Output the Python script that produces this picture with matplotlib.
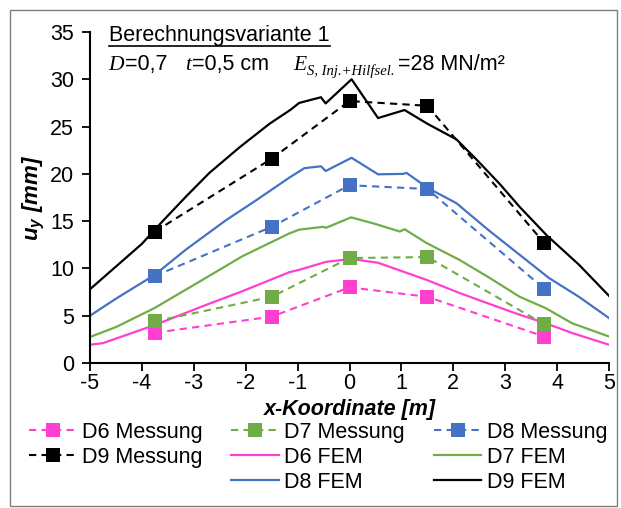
import matplotlib
matplotlib.use("Agg")
import matplotlib.pyplot as plt
from matplotlib.lines import Line2D
from matplotlib.patches import Rectangle

plt.rcParams['font.family'] = ['Liberation Sans', 'DejaVu Sans']
plt.rcParams['mathtext.fontset'] = 'custom'
plt.rcParams['mathtext.it'] = 'Liberation Sans:italic:bold'
plt.rcParams['mathtext.rm'] = 'Liberation Sans:bold'

# ---- data -------------------------------------------------------------
x_mess = [-3.75, -1.5, 0.0, 1.5, 3.75]
d6_mess = [3.2, 4.9, 8.0, 7.0, 2.8]
d7_mess = [4.4, 7.0, 11.1, 11.2, 4.1]
d8_mess = [9.2, 14.4, 18.8, 18.4, 7.85]
d9_mess = [13.9, 21.6, 27.7, 27.2, 12.7]

d6_fem_x = [-5, -4.75, -3.76, -2.83, -2.06, -1.16, -0.97, -0.45, 0.03, 0.55,
            1.48, 2.12, 2.69, 3.28, 3.78, 4.29, 5]
d6_fem_y = [1.93, 2.1, 4.0, 6.0, 7.6, 9.6, 9.85, 10.7, 11.0, 10.6,
            8.8, 7.4, 6.26, 5.1, 4.2, 3.17, 1.93]

d7_fem_x = [-5, -4.5, -3.76, -2.83, -2.06, -1.16, -0.97, -0.51, -0.45, 0.03,
            0.5, 0.97, 1.06, 1.48, 2.12, 2.7, 3.28, 3.78, 4.29, 5]
d7_fem_y = [2.75, 3.8, 5.8, 8.8, 11.3, 13.7, 14.1, 14.4, 14.3, 15.4,
            14.7, 13.9, 14.15, 12.7, 10.9, 9.0, 7.0, 5.8, 4.2, 2.8]

d8_fem_x = [-5, -4.5, -3.76, -3.15, -2.38, -1.8, -1.16, -0.87, -0.55, -0.46,
            0.04, 0.55, 1.03, 1.1, 1.51, 2.06, 2.45, 2.69, 3.84, 4.42, 5]
d8_fem_y = [5.0, 6.8, 9.3, 12.0, 15.1, 17.2, 19.6, 20.6, 20.8, 20.3,
            21.7, 19.95, 20.0, 20.1, 18.5, 16.9, 15.1, 14.0, 9.0, 7.0, 4.75]

d9_fem_x = [-5, -4.5, -4, -3.6, -3.15, -2.7, -2.12, -1.54, -1.13, -0.97,
            -0.55, -0.46, 0.04, 0.55, 1.06, 1.5, 2.06, 2.45, 2.9, 3.28,
            3.8, 4.42, 5]
d9_fem_y = [7.8, 10.2, 12.6, 15.0, 17.6, 20.1, 22.8, 25.3, 26.8, 27.5,
            28.1, 27.45, 30.0, 25.9, 26.75, 25.3, 23.65, 21.5, 18.9, 16.5,
            13.5, 10.4, 7.1]

x_ticks = [-5, -4, -3, -2, -1, 0, 1, 2, 3, 4, 5]
y_ticks = [0, 5, 10, 15, 20, 25, 30, 35]

col_d6 = '#FF3FCF'
col_d7 = '#70AD47'
col_d8 = '#4472C4'
col_d9 = '#000000'

FS = 15.5

# ---- figure -----------------------------------------------------------
W, H = 621, 508
fig = plt.figure(figsize=(W / 100, H / 100), dpi=100)
ax = fig.add_axes([90 / W, 1 - 363 / H, 519 / W, 331 / H])

fem_lw = 1.6
mess_kw = dict(linestyle=(0, (3.5, 2.5)), linewidth=1.5, marker='s',
               markersize=10, markeredgewidth=0)

h_f6, = ax.plot(d6_fem_x, d6_fem_y, color=col_d6, lw=fem_lw, label='D6 FEM')
h_f7, = ax.plot(d7_fem_x, d7_fem_y, color=col_d7, lw=fem_lw, label='D7 FEM')
h_f8, = ax.plot(d8_fem_x, d8_fem_y, color=col_d8, lw=fem_lw, label='D8 FEM')
h_f9, = ax.plot(d9_fem_x, d9_fem_y, color=col_d9, lw=fem_lw, label='D9 FEM')

h_m6, = ax.plot(x_mess, d6_mess, color=col_d6, **mess_kw, label='D6 Messung')
h_m7, = ax.plot(x_mess, d7_mess, color=col_d7, **mess_kw, label='D7 Messung')
h_m8, = ax.plot(x_mess, d8_mess, color=col_d8, **mess_kw, label='D8 Messung')
h_m9, = ax.plot(x_mess, d9_mess, color=col_d9, **mess_kw, label='D9 Messung')

ax.set_xlim(-5, 5)
ax.set_ylim(0, 35)
ax.set_xticks(x_ticks)
ax.set_yticks(y_ticks)
ax.set_xticklabels([str(t) for t in x_ticks])
ax.tick_params(axis='both', labelsize=FS, width=1.3, length=5.5,
               direction='out', color='black')
ax.tick_params(axis='x', pad=2)
ax.tick_params(axis='y', pad=6)
for s in ('top', 'right'):
    ax.spines[s].set_visible(False)
for s in ('left', 'bottom'):
    ax.spines[s].set_linewidth(1.5)

ax.set_xlabel('x-Koordinate [m]', fontsize=FS, fontweight='bold',
              fontstyle='italic', labelpad=3)
ax.set_ylabel(r'$u_y$ [mm]', fontsize=FS + 0.5, fontweight='bold',
              fontstyle='italic')
ax.yaxis.set_label_coords((47 - 90) / 519, 0.5)

# ---- header texts -----------------------------------------------------
def fx(px):
    return px / W

def fy(py):
    return 1 - py / H

fig.canvas.draw()
renderer = fig.canvas.get_renderer()

title = fig.text(fx(109), fy(41), 'Berechnungsvariante 1', fontsize=FS,
                 ha='left', va='baseline')
bb = title.get_window_extent(renderer)
fig.add_artist(Line2D([bb.x0 / W, bb.x1 / W], [fy(45.5), fy(45.5)],
                      transform=fig.transFigure, color='black', lw=1.2))

serif = ['Liberation Serif', 'DejaVu Serif']
base = 70


def piece(px, text, dy=0, **kw):
    t = fig.text(fx(px), fy(base + dy), text, ha='left', va='baseline', **kw)
    return t.get_window_extent(renderer).x1


end = piece(108, 'D', fontsize=FS, family=serif, style='italic')
piece(end + 1, '=0,7', fontsize=FS)
end = piece(185, 't', fontsize=FS, family=serif, style='italic')
piece(end + 1, '=0,5 cm', fontsize=FS)
end = piece(293, 'E', fontsize=FS, family=serif, style='italic')
end = piece(end + 1, 'S, Inj.+Hilfsel.', dy=5, fontsize=10.5, family=serif,
            style='italic')
piece(end + 3, '=28 MN/m²', fontsize=FS)

# ---- legend -----------------------------------------------------------
blank = Line2D([], [], linestyle='none', marker=None)
handles = [h_m6, h_m9, blank, h_m7, h_f6, h_f8, h_m8, h_f7, h_f9]
labels = ['D6 Messung', 'D9 Messung', '', 'D7 Messung', 'D6 FEM', 'D8 FEM',
          'D8 Messung', 'D7 FEM', 'D9 FEM']
fig.legend(handles, labels, ncol=3, loc='upper left',
           bbox_to_anchor=(fx(29), fy(422)), frameon=False, fontsize=FS,
           handlelength=2.2, handletextpad=0.25, columnspacing=1.35,
           labelspacing=0.18, borderaxespad=0, borderpad=0)

# outer frame
fig.add_artist(Rectangle((fx(10), fy(506)), fx(617) - fx(10), fy(10) - fy(506),
                         transform=fig.transFigure, fill=False,
                         edgecolor='#7f7f7f', lw=1.0))

fig.savefig('out.png', dpi=100)
